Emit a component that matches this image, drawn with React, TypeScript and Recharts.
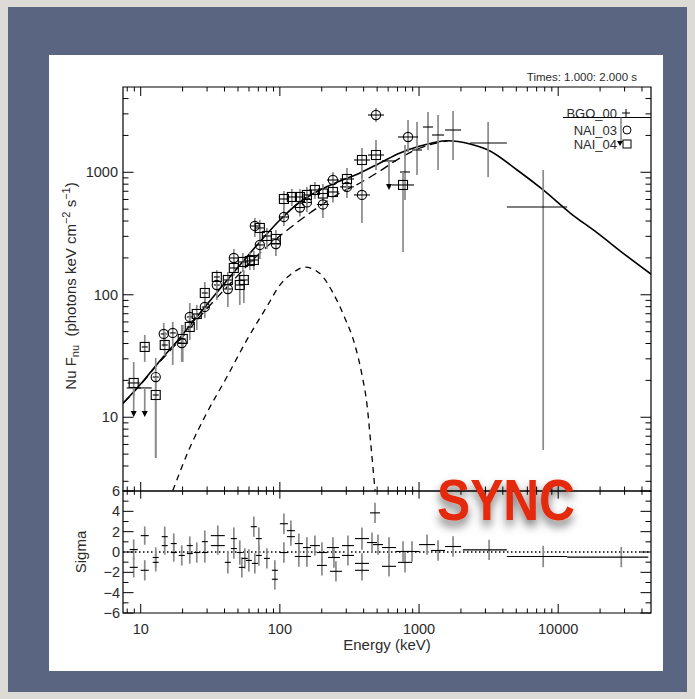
import React from 'react';
import {
  ComposedChart,
  Line,
  Scatter,
  XAxis,
  YAxis,
  ErrorBar,
  ReferenceArea,
  ReferenceLine,
} from 'recharts';

// ---- model curves (keV, photons keV cm^-2 s^-1) ----
const modelE = [7.46, 10, 13.7, 19.1, 28.9, 43.7, 71.8, 100, 139.3, 194, 270, 376, 524, 730, 1017, 1617, 2328, 3137, 5070, 7800, 12200, 19080, 29840, 46670];
const modelF = [13.0, 18.7, 28.8, 44.4, 79.5, 139.8, 270, 408, 572, 717, 849, 987, 1191, 1438, 1640, 1811, 1702, 1521, 1044, 717, 465, 320, 215, 147];

const bandE = [7.46, 10, 13.7, 19.1, 28.9, 43.7, 71.8, 118, 194, 270, 376, 524, 730, 1017, 1617];
const bandF = [13.0, 18.5, 28.3, 42.7, 73.8, 122.5, 219, 351, 531, 678, 818, 1025, 1308, 1579, 1811];

const bbE = [17.0, 22.5, 29.8, 41.6, 57.9, 80.6, 100, 124, 151, 194, 241, 293, 346, 389, 423, 451, 483];
const bbF = [2.52, 5.61, 10.8, 21.3, 42.8, 80.0, 120, 151, 168, 149, 103.5, 64.7, 39.0, 22.2, 12.6, 5.93, 2.52];

// ---- NAI_03 (circles) ----
const n3E = [12.82, 14.64, 16.99, 19.72, 22.52, 28.88, 35.22, 42.27, 46.68, 66.07, 71.79, 93.6, 106.9, 139.3, 156.4, 203.9, 240.6, 303.4, 388.9, 490.6, 833.6];
const n3ELo = [12.2, 13.93, 16.17, 18.76, 21.43, 27.48, 33.5, 39.56, 43.69, 61.84, 67.19, 87.6, 98.4, 128.2, 144.0, 184.6, 217.8, 270.1, 340.6, 429.7, 706.4];
const n3EHi = [13.47, 15.39, 17.86, 20.73, 23.67, 30.35, 37.0, 45.16, 49.88, 70.6, 76.71, 100, 116.1, 151.3, 169.9, 225.2, 265.7, 340.7, 444, 560.2, 983.7];
const n3F = [21.3, 47.9, 48.8, 40.4, 65.9, 79.5, 120.2, 111.5, 199.7, 364.5, 255, 259.8, 431.7, 516, 567, 546, 865, 760, 653, 2936, 1942];
const n3FLo = [4.65, 37.5, 26.7, 28.3, 49.7, 64.7, 90.7, 79.5, 162.4, 296.4, 196, 207.3, 364.5, 435.8, 474, 423.6, 717, 617, 385.6, 2574, 1465];
const n3FHi = [30.5, 58.9, 60.0, 56.7, 85.7, 95.9, 153.5, 132, 236.5, 423.6, 302, 307.7, 511, 611, 671, 671, 1006, 933, 987, 3349, 2673];

// ---- NAI_04 (squares) ----
const n4E = [8.905, 10.69, 12.82, 14.88, 20.05, 22.52, 25.29, 28.88, 35.22, 42.27, 51.53, 55.08, 46.68, 54.17, 60.83, 65.0, 71.79, 80.64, 93.6, 106.9, 122.0, 139.3, 156.4, 178.5, 203.9, 240.6, 303.4, 388.9, 490.6, 767.3];
const n4ELo = [8.06, 10.17, 12.2, 14.16, 19.08, 21.43, 24.06, 27.48, 33.5, 39.56, 48.23, 51.55, 43.69, 50.7, 56.93, 60.84, 67.19, 75.47, 87.6, 98.4, 112.3, 128.2, 144.0, 161.6, 184.6, 217.8, 270.1, 340.6, 429.7, 639.4];
const n4EHi = [9.84, 11.23, 13.47, 15.64, 21.07, 23.67, 26.58, 30.35, 37.0, 45.16, 55.06, 58.85, 49.88, 57.88, 65.0, 69.45, 76.71, 86.16, 100, 116.1, 132.5, 151.3, 169.9, 197.2, 225.2, 265.7, 340.7, 444, 560.2, 920.8];
const n4F = [19.05, 37.5, 15.2, 38.9, 43.6, 54.6, 69.7, 103.4, 139.8, 132, 120.2, 132, 165.5, 185.3, 188.8, 192.3, 351, 302, 285.5, 605.4, 628.6, 628.6, 653, 717, 671, 690.6, 881.6, 1260, 1384, 788];
const n4FLo = [14.93, 28.3, 4.65, 31.7, 28.3, 42.8, 51.6, 84.1, 118, 109.4, 82.6, 85.7, 142.4, 153.5, 159, 159, 280, 236.5, 232, 511, 530.8, 530.8, 546, 605.4, 561.7, 567, 671, 898.4, 1044, 223.6];
const n4FHi = [28.3, 47.0, 21.3, 49.7, 56.7, 68.4, 82.6, 127.2, 159, 153.5, 145, 159, 196, 219.4, 223.6, 227.9, 408, 351, 338, 703.8, 730.7, 730.7, 760, 833.4, 802.6, 818, 1084, 1579, 1835, 1006];

// ---- BGO_00 (crosses only) ----
const bgoE = [793, 967.4, 1160, 1370, 1756, 3136, 7801];
const bgoELo = [730, 890.6, 1068, 1240, 1538, 2328, 4276];
const bgoEHi = [861.4, 1051, 1260, 1513, 2005, 4276, 11606];
const bgoF = [1006, 1521, 2343, 2016, 2214, 1735, 521];
const bgoFLo = [594, 951, 1521, 1044, 1260, 915, 5.41];
const bgoFHi = [1671, 2574, 3106, 2936, 3165, 2574, 1044];

// ---- upper limits ----
const ulE = [8.905, 10.69, 608.3];
const ulF = [17.35, 17.35, 1237];

// ---- residuals (sigma) ----
const resE = [8.905, 8.905, 10.69, 10.69, 12.82, 12.82, 14.88, 14.88, 17.28, 17.28, 19.72, 22.52, 22.52, 25.29, 28.88, 28.88, 35.81, 35.81, 42.27, 46.68, 46.68, 51.53, 53.29, 56.0, 59.84, 65.0, 66.07, 70.6, 70.6, 80.64, 92.05, 92.05, 106.9, 106.9, 120.0, 120.0, 136.9, 136.9, 156.4, 156.4, 178.5, 200.5, 200.5, 240.6, 244.7, 252.9, 308.5, 308.5, 388.9, 388.9, 388.9, 482.6, 459.2, 507, 608.3, 608.3, 767.3, 793, 890.5, 1141.8, 1370, 1756, 3188, 7801, 28400];
const resELo = [8.33, 8.33, 10.0, 10.0, 12.2, 12.2, 14.16, 14.16, 16.44, 16.44, 18.76, 21.43, 21.43, 24.06, 27.48, 27.48, 31.89, 31.89, 40.22, 44.41, 44.41, 49.03, 50.7, 53.28, 56.94, 61.84, 62.86, 67.17, 67.17, 76.73, 87.58, 87.58, 100.0, 100.0, 112.3, 112.3, 128.1, 128.1, 146.4, 146.4, 164.3, 184.6, 184.6, 217.8, 221.5, 229.0, 279.3, 279.3, 346.3, 346.3, 346.3, 444.3, 422.7, 466.7, 541.6, 541.6, 683.2, 706.1, 792.9, 1000, 1219.8, 1537.9, 2063, 4276, 11606];
const resEHi = [9.52, 9.52, 11.42, 11.42, 13.47, 13.47, 15.64, 15.64, 18.16, 18.16, 20.73, 23.67, 23.67, 26.58, 30.35, 30.35, 40.22, 40.22, 44.43, 49.06, 49.06, 54.16, 56.01, 58.86, 62.89, 68.32, 69.44, 74.2, 74.2, 84.75, 96.75, 96.75, 114.2, 114.2, 128.2, 128.2, 146.3, 146.3, 167.1, 167.1, 193.9, 217.8, 217.8, 265.7, 270.3, 279.3, 340.7, 340.7, 436.8, 436.8, 436.8, 524.2, 498.8, 550.7, 683.2, 683.2, 861.8, 890.6, 1000, 1303.7, 1538.7, 2005, 4276, 11606, 44410];
const resSig = [0.24, -1.51, 1.61, -1.8, -0.54, -1.02, 1.51, 0.63, 0.83, -0.05, -0.34, -0.15, 0.63, -0.05, 1.02, -0.05, 1.61, 0.63, -1.02, 1.32, 0.34, -0.05, -1.51, -0.63, -0.83, 2.49, -1.12, 1.32, -0.34, -0.63, -1.8, -2.68, 2.78, -0.05, 2.1, 1.51, 0.83, -0.44, 0.44, -0.44, 0.63, -0.05, -1.32, 0.44, -0.54, -1.9, 0.63, -0.34, 1.32, -1.12, -1.8, 3.85, 0.93, 0.73, 0.44, -1.41, 0.05, -1.02, 0.05, 0.73, 0.15, 0.54, 0.21, -0.44, -0.5];
const resErr = [1.0, 1.0, 0.9, 1.0, 1.0, 0.9, 1.0, 0.9, 1.0, 0.9, 1.0, 1.0, 0.9, 1.0, 1.1, 1.0, 1.0, 0.9, 1.1, 1.1, 1.0, 1.2, 1.0, 1.0, 1.1, 1.0, 1.0, 1.1, 1.0, 1.0, 1.0, 1.0, 1.0, 1.0, 1.0, 0.9, 1.0, 1.0, 1.0, 1.0, 1.0, 1.0, 1.0, 1.0, 1.0, 1.0, 1.0, 1.0, 1.1, 1.0, 1.0, 1.0, 1.0, 1.0, 1.0, 1.0, 1.0, 1.0, 1.0, 1.0, 1.0, 1.0, 1.0, 1.05, 1.0];

// ---- ticks ----
const X_MAJOR = [10, 100, 1000, 10000];
const X_MINOR = [8, 9, 20, 30, 40, 50, 60, 70, 80, 90, 200, 300, 400, 500, 600, 700, 800, 900, 2000, 3000, 4000, 5000, 6000, 7000, 8000, 9000, 20000, 30000, 40000];
const Y_MAJOR = [10, 100, 1000];
const Y_MINOR = [3, 4, 5, 6, 7, 8, 9, 20, 30, 40, 50, 60, 70, 80, 90, 200, 300, 400, 500, 600, 700, 800, 900, 2000, 3000, 4000];
const S_MAJOR = [-6, -4, -2, 0, 2, 4, 6];
const S_MINOR = [-5, -3, -1, 1, 3, 5];

const E_DOMAIN: [number, number] = [7.46, 46440];
const F_DOMAIN: [number, number] = [2.5, 4970];
const S_DOMAIN: [number, number] = [-6, 6];

// layout
const W = 695;
const H = 699;
const PL = 123;
const PR = 651;
const TOP_T = 87;
const TOP_B = 491;
const RES_B = 613;
const PW = PR - PL;
const TOP_H = TOP_B - TOP_T;
const RES_H = RES_B - TOP_B;
const AX_W = 40; // room kept for the y axes
const AX_H = 30; // room kept for the x axes
const FONT = "'Liberation Sans', Arial, Helvetica, sans-serif";
const TXT = '#2b2b2b';
const ERR_GREY = '#8a8a8a';

const sortNum = (a: number[]) => [...a].sort((p, q) => p - q);
const X_TICKS = sortNum([...X_MAJOR, ...X_MINOR]);
const Y_TICKS = sortNum([...Y_MAJOR, ...Y_MINOR]);
const S_TICKS = sortNum([...S_MAJOR, ...S_MINOR]);

const curve = (E: number[], F: number[]) => E.map((e, i) => ({ e, f: F[i] }));
const rows = (E: number[], ELo: number[], EHi: number[], F: number[], FLo: number[], FHi: number[]) =>
  E.map((e, i) => ({
    e,
    f: F[i],
    eErr: [e - ELo[i], EHi[i] - e],
    fErr: [F[i] - FLo[i], FHi[i] - F[i]],
  }));

const modelRows = curve(modelE, modelF);
const bandRows = curve(bandE, bandF);
const bbRows = curve(bbE, bbF);
const n3Rows = rows(n3E, n3ELo, n3EHi, n3F, n3FLo, n3FHi);
const n4Rows = rows(n4E, n4ELo, n4EHi, n4F, n4FLo, n4FHi);
const bgoRows = rows(bgoE, bgoELo, bgoEHi, bgoF, bgoFLo, bgoFHi);
const ulRows = curve(ulE, ulF);
const resRows = resE.map((e, i) => ({
  e,
  f: resSig[i],
  eErr: [e - resELo[i], resEHi[i] - e],
  fErr: [resErr[i], resErr[i]],
}));

// ---- ticks (inward, on both sides of the box) ----
const XTickTop = (props: any) => {
  const { x, payload } = props;
  const y = TOP_B;
  const len = X_MAJOR.includes(payload.value) ? 9 : 4.5;
  return (
    <g>
      <line x1={x} y1={y} x2={x} y2={y - len} stroke="#000" strokeWidth={1} />
      <line x1={x} y1={TOP_T} x2={x} y2={TOP_T + len} stroke="#000" strokeWidth={1} />
    </g>
  );
};

const XTickRes = (props: any) => {
  const { x, payload } = props;
  const y = RES_B;
  const major = X_MAJOR.includes(payload.value);
  const len = major ? 9 : 4.5;
  return (
    <g>
      <line x1={x} y1={y} x2={x} y2={y - len} stroke="#000" strokeWidth={1} />
      <line x1={x} y1={TOP_B} x2={x} y2={TOP_B + len * 0.85} stroke="#000" strokeWidth={1} />
      {major && (
        <text x={x} y={y + 21} textAnchor="middle" fontSize={14.5} fill={TXT} fontFamily={FONT}>
          {payload.value}
        </text>
      )}
    </g>
  );
};

const YTickTop = (props: any) => {
  const { y, payload } = props;
  const x = PL;
  const major = Y_MAJOR.includes(payload.value);
  const len = major ? 10.5 : 5.5;
  return (
    <g>
      <line x1={x} y1={y} x2={x + len} y2={y} stroke="#000" strokeWidth={1} />
      <line x1={x + PW} y1={y} x2={x + PW - len} y2={y} stroke="#000" strokeWidth={1} />
      {major && (
        <text x={x - 5} y={y + 5} textAnchor="end" fontSize={14.5} fill={TXT} fontFamily={FONT}>
          {payload.value}
        </text>
      )}
    </g>
  );
};

const YTickRes = (props: any) => {
  const { y, payload } = props;
  const x = PL;
  const major = S_MAJOR.includes(payload.value);
  const len = major ? 10.5 : 5.5;
  return (
    <g>
      <line x1={x} y1={y} x2={x + len} y2={y} stroke="#000" strokeWidth={1} />
      <line x1={x + PW} y1={y} x2={x + PW - len} y2={y} stroke="#000" strokeWidth={1} />
      {major && (
        <text x={x - 3} y={y + 5} textAnchor="end" fontSize={14.5} fill={TXT} fontFamily={FONT}>
          {String(payload.value).replace('-', '\u2212')}
        </text>
      )}
    </g>
  );
};

// ---- markers ----
const CircleMark = (p: any) => (
  <circle cx={p.cx} cy={p.cy} r={4.6} fill="none" stroke="#000" strokeWidth={1.1} />
);
const SquareMark = (p: any) => (
  <rect x={p.cx - 4.5} y={p.cy - 4.5} width={9} height={9} fill="none" stroke="#000" strokeWidth={1.1} />
);
const NoMark = () => <g />;
const LimitMark = (p: any) => (
  <g>
    <line x1={p.cx - 7} x2={p.cx + 7} y1={p.cy} y2={p.cy} stroke="#000" strokeWidth={1.1} />
    <line x1={p.cx} x2={p.cx} y1={p.cy} y2={p.cy + 24} stroke={ERR_GREY} strokeWidth={1.7} />
    <path d={`M${p.cx - 3},${p.cy + 23} L${p.cx + 3},${p.cy + 23} L${p.cx},${p.cy + 29} Z`} fill="#000" />
  </g>
);

const errBars = () => [
  <ErrorBar key="y" dataKey="fErr" direction="y" width={0} stroke={ERR_GREY} strokeWidth={1.7} />,
  <ErrorBar key="x" dataKey="eErr" direction="x" width={0} stroke="#000" strokeWidth={1.1} />,
];

const abs: React.CSSProperties = { position: 'absolute', left: 0, top: 0 };

const xAxisCommon = {
  dataKey: 'e',
  type: 'number' as const,
  scale: 'log' as const,
  domain: E_DOMAIN,
  allowDataOverflow: true,
  ticks: X_TICKS,
  interval: 0 as const,
  tickLine: false,
  axisLine: false,
  tickSize: 0,
  tickMargin: 0,
  height: AX_H,
};

export default function App() {
  return (
    <div style={{ ...abs, width: W, height: H, background: '#dcdbd5', overflow: 'hidden' }}>
      <div style={{ position: 'absolute', left: 8, top: 7, width: 679, height: 685, background: '#5a6581' }} />
      <div style={{ position: 'absolute', left: 49, top: 55, width: 614, height: 616, background: '#fff' }} />

      {/* upper panel: spectrum */}
      <div style={abs}>
        <ComposedChart
          width={W}
          height={H}
          margin={{ top: TOP_T, right: W - PR, bottom: H - TOP_B - AX_H, left: PL - AX_W }}
        >
          <XAxis {...xAxisCommon} tick={<XTickTop />} />
          <YAxis
            dataKey="f"
            type="number"
            scale="log"
            domain={F_DOMAIN}
            allowDataOverflow
            ticks={Y_TICKS}
            interval={0}
            tick={<YTickTop />}
            tickLine={false}
            axisLine={false}
            tickSize={0}
            tickMargin={0}
            width={AX_W}
          />
          <ReferenceArea
            x1={E_DOMAIN[0]}
            x2={E_DOMAIN[1]}
            y1={F_DOMAIN[0]}
            y2={F_DOMAIN[1]}
            fill="none"
            stroke="#000"
            strokeWidth={1.2}
            ifOverflow="visible"
          />
          <Line data={bbRows} dataKey="f" type="monotone" stroke="#000" strokeWidth={1.3} strokeDasharray="6 5" dot={false} activeDot={false} isAnimationActive={false} />
          <Line data={bandRows} dataKey="f" type="monotone" stroke="#000" strokeWidth={1.3} strokeDasharray="9 5" dot={false} activeDot={false} isAnimationActive={false} />
          <Line data={modelRows} dataKey="f" type="monotone" stroke="#000" strokeWidth={1.6} dot={false} activeDot={false} isAnimationActive={false} />
          <Scatter data={bgoRows} dataKey="f" shape={NoMark} isAnimationActive={false}>
            {errBars()}
          </Scatter>
          <Scatter data={n3Rows} dataKey="f" shape={CircleMark} isAnimationActive={false}>
            {errBars()}
          </Scatter>
          <Scatter data={n4Rows} dataKey="f" shape={SquareMark} isAnimationActive={false}>
            {errBars()}
          </Scatter>
          <Scatter data={ulRows} dataKey="f" shape={LimitMark} isAnimationActive={false} />
        </ComposedChart>
      </div>

      {/* lower panel: residuals */}
      <div style={abs}>
        <ComposedChart
          width={W}
          height={H}
          margin={{ top: TOP_B, right: W - PR, bottom: H - RES_B - AX_H, left: PL - AX_W }}
        >
          <XAxis {...xAxisCommon} tick={<XTickRes />} />
          <YAxis
            dataKey="f"
            type="number"
            domain={S_DOMAIN}
            allowDataOverflow
            ticks={S_TICKS}
            interval={0}
            tick={<YTickRes />}
            tickLine={false}
            axisLine={false}
            tickSize={0}
            tickMargin={0}
            width={AX_W}
          />
          <ReferenceArea
            x1={E_DOMAIN[0]}
            x2={E_DOMAIN[1]}
            y1={S_DOMAIN[0]}
            y2={S_DOMAIN[1]}
            fill="none"
            stroke="#000"
            strokeWidth={1.2}
            ifOverflow="visible"
          />
          <ReferenceLine y={0} stroke="#000" strokeWidth={1.5} strokeDasharray="1.5 2.5" />
          <Scatter data={resRows} dataKey="f" shape={NoMark} isAnimationActive={false}>
            {errBars()}
          </Scatter>
        </ComposedChart>
      </div>

      {/* texts, legend, stamp */}
      <svg width={W} height={H} style={{ ...abs, pointerEvents: 'none' }}>
        <defs>
          <filter id="syncShadow" x="-20%" y="-30%" width="140%" height="180%">
            <feDropShadow dx="0" dy="6" stdDeviation="5" floodColor="#000" floodOpacity="0.55" />
          </filter>
        </defs>
        <g fontFamily={FONT} fill={TXT}>
          <text x={637} y={81} textAnchor="end" fontSize={11.5}>Times: 1.000: 2.000 s</text>

          <text x={617} y={118} textAnchor="end" fontSize={13}>BGO_00</text>
          <text x={617} y={135} textAnchor="end" fontSize={13}>NAI_03</text>
          <text x={617} y={149} textAnchor="end" fontSize={13}>NAI_04</text>

          <text x={387} y={650} textAnchor="middle" fontSize={15}>Energy (keV)</text>
          <text transform="translate(86,552) rotate(-90)" textAnchor="middle" fontSize={15}>Sigma</text>
          <text transform="translate(76,286) rotate(-90)" textAnchor="middle" fontSize={15} style={{ whiteSpace: 'pre' }}>
            Nu F<tspan fontSize={11} dy={3}>nu</tspan>
            <tspan dy={-3}>{'  (photons keV cm'}</tspan>
            <tspan fontSize={11} dy={-6}>{'\u22122'}</tspan>
            <tspan dy={6}>{' s'}</tspan>
            <tspan fontSize={11} dy={-6}>{'\u22121'}</tspan>
            <tspan dy={6}>)</tspan>
          </text>
        </g>
        <g stroke="#000" strokeWidth={1} fill="none">
          <line x1={563} y1={117.5} x2={651} y2={117.5} />
          <line x1={621} y1={117.5} x2={621} y2={141} stroke={ERR_GREY} strokeWidth={1.6} />
          <line x1={622} y1={113} x2={630} y2={113} />
          <line x1={626} y1={109} x2={626} y2={117} />
          <circle cx={627} cy={130} r={4} />
          <rect x={623} y={140} width={8} height={8} />
          <path d="M617,141 L623,141 L620,146 Z" fill="#000" stroke="none" />
        </g>
        <text
          x={437}
          y={520}
          fontSize={58}
          fontWeight={700}
          fill="#e3290e"
          fontFamily="'Liberation Sans Narrow', 'Liberation Sans', Arial, sans-serif"
          textLength={138}
          lengthAdjust="spacingAndGlyphs"
          filter="url(#syncShadow)"
        >
          SYNC
        </text>
      </svg>
    </div>
  );
}
